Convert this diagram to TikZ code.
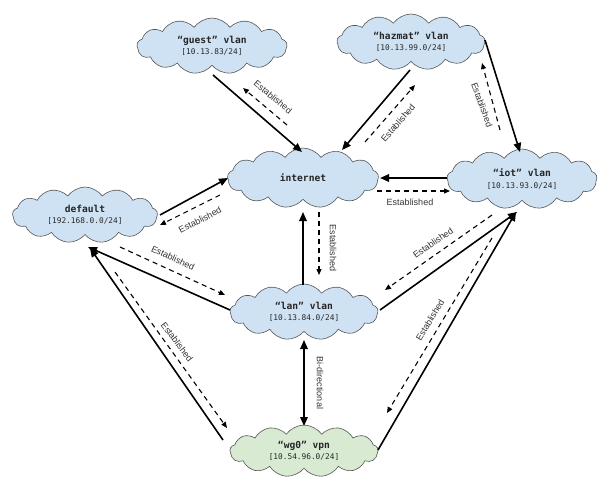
\documentclass[tikz,border=0pt]{standalone}
\usepackage{fontspec}
\setmainfont{Liberation Sans}
\setmonofont{DejaVu Sans Mono}
\usetikzlibrary{shapes.symbols,arrows.meta,calc}
\definecolor{cloudblue}{HTML}{CFE2F3}
\definecolor{cloudgreen}{HTML}{D9EAD3}
\definecolor{cloudline}{HTML}{555555}
\definecolor{labelgray}{HTML}{333333}
\newcommand{\subnet}{\mdseries\fontsize{7.8}{9}\selectfont}
\tikzset{
  net/.style={cloud, cloud puffs=13, cloud puff arc=110, cloud ignores aspect,
    draw=cloudline, line width=0.6pt, fill=cloudblue, inner sep=0pt, align=center,
    font=\ttfamily\bfseries\fontsize{9.6}{11.5}\selectfont, text=black!85},
  vpn/.style={net, fill=cloudgreen},
  flow/.style={line width=1.6pt, -{Triangle[length=9pt,width=7.5pt]}},
  both/.style={line width=1.6pt, {Triangle[length=9pt,width=7.5pt]}-{Triangle[length=9pt,width=7.5pt]}},
  est/.style={line width=1.1pt, dash pattern=on 5pt off 4pt, -{Triangle[length=6pt,width=5pt]}},
  lbl/.style={font=\fontsize{9}{10}\selectfont, text=labelgray, inner sep=0pt},
}
\begin{document}
\begin{tikzpicture}[x=1pt,y=-1pt]
\useasboundingbox (0,0) rectangle (606,493);
% clouds
\node[net, minimum width=150pt, minimum height=56pt] (guest) at (212,46) {“guest” vlan\\\subnet [10.13.83/24]};
\node[net, minimum width=148pt, minimum height=56pt] (hazmat) at (411,42) {“hazmat” vlan\\\subnet [10.13.99.0/24]};
\node[net, minimum width=151pt, minimum height=60pt] (internet) at (303,178) {internet};
\node[net, minimum width=150pt, minimum height=60pt] (iot) at (522,179) {“iot” vlan\\\subnet [10.13.93.0/24]};
\node[net, minimum width=145pt, minimum height=56pt] (default) at (85,215) {default\\\subnet [192.168.0.0/24]};
\node[net, minimum width=148pt, minimum height=56pt] (lan) at (304,312) {“lan” vlan\\\subnet [10.13.84.0/24]};
\node[vpn, minimum width=148pt, minimum height=52pt] (wg0) at (304,451) {“wg0” vpn\\\subnet [10.54.96.0/24]};
% guest <-> internet
\draw[flow] ($(guest)+(1,29)$) -- ($(internet)+(-1,-26)$);
\draw[est] ($(internet)+(-16,-53)$) -- ($(guest)+(31,42)$);
\node[lbl, rotate=-40] (l1) at (273,97) {Established};
% hazmat <-> internet
\draw[flow] ($(hazmat)+(-1,28)$) -- ($(internet)+(39,-28)$);
\draw[est] ($(internet)+(62,-36)$) -- ($(hazmat)+(4,43)$);
\node[lbl, rotate=49] (l2) at (398,123) {Established};
% hazmat <-> iot
\draw[flow] ($(hazmat)+(74,-2)$) -- ($(iot)+(-2,-27)$);
\draw[est] ($(iot)+(-22,-49)$) -- ($(hazmat)+(71,21)$);
\node[lbl, rotate=-70] (l3) at (482,105) {Established};
% iot <-> internet
\draw[flow] ($(iot)+(-75,-1)$) -- ($(internet)+(77,0)$);
\draw[est] ($(internet)+(74,13)$) -- ($(iot)+(-72,12)$);
\node[lbl] (l4) at (410,202) {Established};
% default <-> internet
\draw[flow] ($(default)+(75,0)$) -- ($(internet)+(-75,0)$);
\draw[est] ($(internet)+(-83,17)$) -- ($(default)+(75,10)$);
\node[lbl, rotate=27] (l5) at (200,220) {Established};
% lan <-> internet
\draw[flow] ($(lan)+(-1,-27)$) -- ($(internet)+(0,34)$);
\draw[est] ($(internet)+(16,34)$) -- ($(lan)+(15,-37)$);
\node[lbl, rotate=-90] (l6) at (333,248) {Established};
% lan <-> default
\draw[flow] ($(lan)+(-74,-2)$) -- ($(default)+(3,32)$);
\draw[est] ($(default)+(35,32)$) -- ($(lan)+(-79,-17)$);
\node[lbl, rotate=-25] (l7) at (173,258) {Established};
% wg0 <-> default
\draw[flow] ($(wg0)+(-81,-11)$) -- ($(default)+(5,33)$);
\draw[est] ($(default)+(30,57)$) -- ($(wg0)+(-77,-23)$);
\node[lbl, rotate=-53] (l8) at (177,342) {Established};
% lan <-> iot
\draw[flow] ($(lan)+(76,-2)$) -- ($(iot)+(-5,33)$);
\draw[est] ($(iot)+(-30,36)$) -- ($(lan)+(81,-22)$);
\node[lbl, rotate=35] (l9) at (433,243) {Established};
% wg0 <-> iot
\draw[flow] ($(wg0)+(74,-1)$) -- ($(iot)+(-6,33)$);
\draw[est] ($(iot)+(-30,59)$) -- ($(wg0)+(83,-38)$);
\node[lbl, rotate=59] (l10) at (430,320) {Established};
% lan <-> wg0
\draw[both] ($(lan)+(0,28)$) -- ($(wg0)+(0,-25)$);
\node[lbl, rotate=-90] (l11) at (320,383) {Bi-directional};
\end{tikzpicture}
\end{document}
